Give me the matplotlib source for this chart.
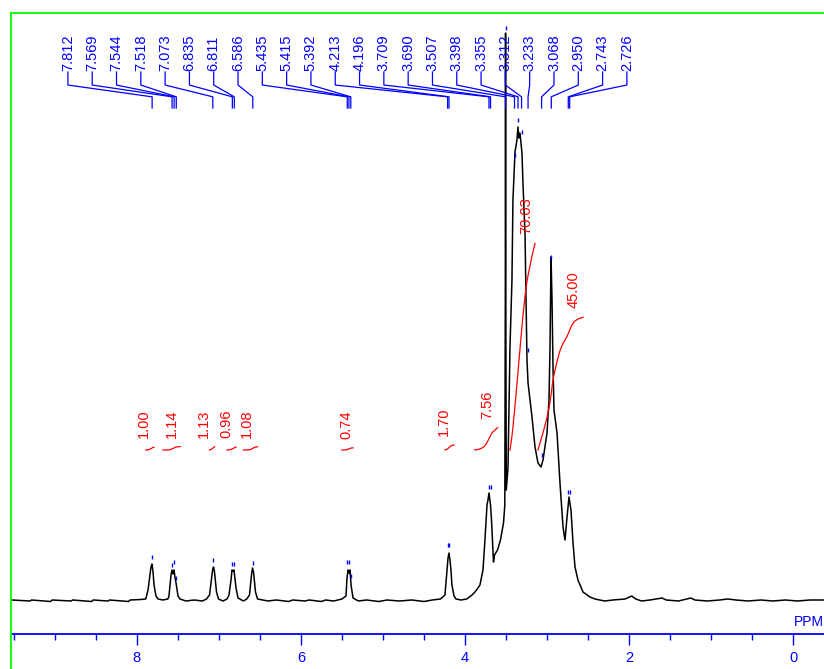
import numpy as np
import matplotlib.pyplot as plt
from matplotlib.lines import Line2D
from matplotlib.ticker import MultipleLocator

plt.rcParams['font.family'] = ['Liberation Sans', 'DejaVu Sans']

# spectrum trace (chemical shift, intensity a.u.)
ppm = [9.52, 9.30, 9.28, 9.05, 9.03, 8.80, 8.78, 8.55, 8.53, 8.35, 8.33, 8.10, 8.08, 7.95, 7.89,
       7.862, 7.838, 7.826, 7.814, 7.801, 7.789, 7.765, 7.740,
       7.68, 7.62,
       7.607, 7.582, 7.570, 7.557, 7.545, 7.533, 7.521, 7.497, 7.472,
       7.40, 7.30, 7.20, 7.15,
       7.113, 7.088, 7.074, 7.064, 7.052, 7.028, 7.003,
       6.95, 6.90,
       6.876, 6.851, 6.839, 6.827, 6.815, 6.790, 6.766,
       6.70, 6.66,
       6.626, 6.602, 6.589, 6.577, 6.553, 6.528,
       6.40, 6.30, 6.15, 6.10, 5.95, 5.90, 5.75, 5.70, 5.60, 5.50,
       5.451, 5.438, 5.426, 5.414, 5.402, 5.389, 5.365,
       5.30, 5.20, 5.05, 4.95, 4.80, 4.65, 4.50, 4.40, 4.30,
       4.245, 4.220, 4.208, 4.196, 4.184, 4.172, 4.160, 4.135, 4.111,
       4.05, 3.98,
       3.916, 3.880, 3.843, 3.819, 3.782, 3.758, 3.733, 3.721, 3.709, 3.690, 3.678, 3.666,
       3.654, 3.642, 3.605, 3.569, 3.532, 3.516, 3.510, 3.507, 3.504, 3.498,
       3.477, 3.453, 3.429, 3.417, 3.392, 3.368, 3.356, 3.344, 3.331, 3.307, 3.295,
       3.270, 3.258, 3.246, 3.233, 3.185, 3.148, 3.112, 3.075, 3.051, 3.002, 2.978,
       2.966, 2.953, 2.941, 2.929, 2.917, 2.880, 2.844, 2.807, 2.783, 2.758, 2.734,
       2.710, 2.685, 2.661, 2.625, 2.564, 2.479, 2.418,
       2.30, 2.20, 2.05, 1.97, 1.92, 1.85, 1.75, 1.60, 1.55, 1.40, 1.25, 1.20,
       1.05, 0.90, 0.80, 0.70, 0.55, 0.40, 0.25, 0.10, -0.05, -0.20, -0.37]
intensity = [0, -1, 0, -1.5, 0, -1, 0, -1.5, 0, -1, 0, -1.5, 0, 0.5, 1,
             10, 25, 33, 36, 28, 15, 4, 1,
             0, 1,
             4, 25, 30, 26, 30, 22, 17, 4, 1,
             -1, 0, -1, 1,
             5, 22, 31, 33, 28, 8, 1,
             -1, 1,
             5, 20, 30, 29, 30, 12, 2,
             -1, 1,
             5, 25, 32, 28, 8, 1,
             -1, 0, -1.5, 0, -1, 0, -1.5, 0, -1, 1,
             4, 22, 30, 27, 30, 15, 2,
             -1, 0, -1.5, 0, -1, 0, -1.5, 0, 1,
             5, 30, 42, 47, 40, 30, 15, 4, 1,
             0, 1,
             5, 8, 12, 15, 30, 60, 95, 100, 107, 95, 80, 60,
             38, 45, 50, 60, 77, 95, 300, 567, 300, 110,
             133, 253, 320, 400, 448, 460, 473, 462, 467, 447, 417,
             367, 300, 240, 217, 183, 153, 137, 133, 140, 167, 200,
             250, 343, 300, 233, 190, 167, 117, 73, 60, 83, 103,
             90, 57, 33, 20, 8, 3, 1,
             -1, 0, 1, 4, 1, -1, 0, 2, 0, -1, 2, 0,
             -1, 0, 1, 0, -1, 0, -1, 0, -1, 0, 0]

# peak picking
peak_labels = ['7.812', '7.569', '7.544', '7.518', '7.073', '6.835', '6.811', '6.586',
               '5.435', '5.415', '5.392', '4.213', '4.196', '3.709', '3.690', '3.507',
               '3.398', '3.355', '3.312', '3.233', '3.068', '2.950', '2.743', '2.726']
pick_heights = [43, 35, 38, 22, 40, 36, 36, 37, 38, 38, 24, 55, 55, 113, 113, 572,
                445, 480, 468, 250, 145, 343, 108, 108]

# integrals
int_start = [7.926, 7.682, 7.144, 6.925, 6.742, 5.524, 4.281, 3.904, 3.459, 3.142]
int_end = [7.777, 7.438, 7.047, 6.779, 6.523, 5.317, 4.123, 3.599, 3.130, 2.545]
int_values = [1.00, 1.14, 1.13, 0.96, 1.08, 0.74, 1.70, 7.56, 70.03, 45.00]

ppm = np.array(ppm)
intensity = np.array(intensity)

fig = plt.figure(figsize=(8.24, 6.69), dpi=100)
ax = fig.add_axes([12/824, 35/669, 812/824, 621/669])

ax.plot(ppm, intensity, color='black', lw=1.1)
ax.set_xlim(9.519, -0.372)
ax.set_ylim(-34, 587)

# peak labels with leader lines
blend = ax.get_xaxis_transform()
label_x = np.linspace(8.838, 2.029, len(peak_labels))
for lx, lab, h in zip(label_x, peak_labels, pick_heights):
    p = float(lab)
    ax.plot([lx, lx, p, p], [0.905, 0.884, 0.865, 0.847], color='blue', lw=0.9,
            transform=blend, clip_on=False)
    ax.text(lx, 0.907, lab, rotation=90, ha='center', va='bottom', color='blue',
            fontsize=10.5, transform=blend)
    ax.plot([p], [h], marker='|', color='blue', markersize=3.5, mew=1)

# integral curves
for s, e, v in zip(int_start, int_end, int_values):
    m = (ppm <= s) & (ppm >= e)
    sx = ppm[m]
    sy = np.clip(intensity[m], 0, None)
    area = np.concatenate([[0], np.cumsum(0.5 * (sy[1:] + sy[:-1]) * np.abs(np.diff(sx)))])
    curve = 150 + area / area[-1] * v * 2.95
    ax.plot(sx, curve, color='red', lw=0.9)
    ax.text(e + 0.13, curve[-1] + 9, '%.2f' % v, rotation=90, ha='center', va='bottom',
            color='red', fontsize=10.5)

# axis styling
ax.set_xticks([8, 6, 4, 2, 0])
ax.xaxis.set_minor_locator(MultipleLocator(0.5))
ax.tick_params(axis='x', which='major', direction='out', length=8, width=1,
               colors='blue', labelsize=10.5, pad=4)
ax.tick_params(axis='x', which='minor', direction='out', length=4.5, width=1, colors='blue')
ax.set_yticks([])
for side in ['left', 'right', 'top']:
    ax.spines[side].set_visible(False)
ax.spines['bottom'].set_color('blue')
ax.spines['bottom'].set_linewidth(1.3)
ax.text(0.0, 0.008, 'PPM', color='blue', fontsize=10, ha='left', va='bottom',
        transform=blend)

# green frame
fig.add_artist(Line2D([10.5/824, 10.5/824], [0, 1 - 13/669], transform=fig.transFigure,
                      color='#00ff00', lw=1.3))
fig.add_artist(Line2D([10.5/824, 1], [1 - 13/669, 1 - 13/669], transform=fig.transFigure,
                      color='#00ff00', lw=1.3))

fig.savefig('out.png', dpi=100)
